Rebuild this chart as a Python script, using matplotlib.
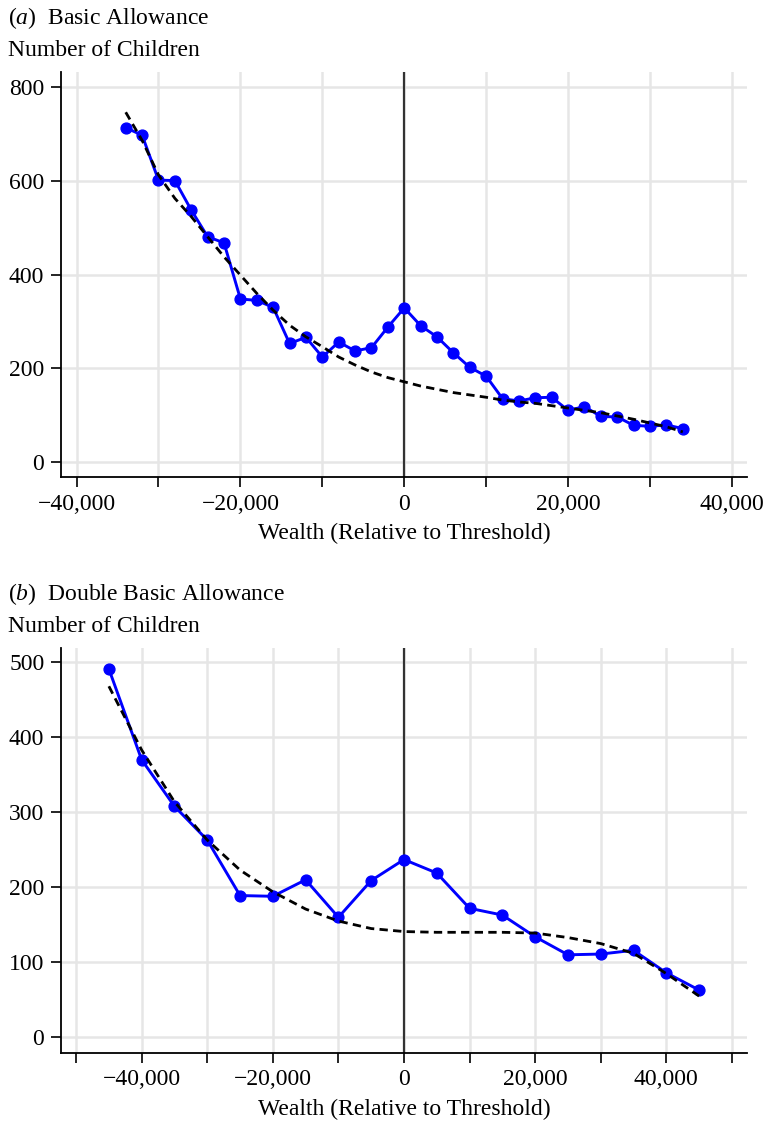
import matplotlib
matplotlib.use('Agg')
import matplotlib.pyplot as plt
from matplotlib.ticker import MultipleLocator, FuncFormatter

plt.rcParams['font.family'] = ['Liberation Serif', 'DejaVu Serif']
plt.rcParams['mathtext.fontset'] = 'custom'
plt.rcParams['mathtext.rm'] = 'Liberation Serif'
plt.rcParams['mathtext.it'] = 'Liberation Serif:italic'

# panel (a): basic allowance, bins of 2,000
wealth_a = list(range(-34000, 34001, 2000))
children_a = [714, 698, 602, 601, 538, 481, 468, 348, 345, 330, 253, 266, 224,
              256, 237, 244, 288, 329, 291, 267, 233, 202, 183, 135, 130, 137,
              138, 110, 118, 97, 96, 78, 76, 79, 71]
fit_a = [747, 687, 613, 563, 524, 481, 438, 399, 360, 324, 292, 267, 246, 224,
         207, 192, 180, 171, 162, 155, 148, 143, 138, 132, 128, 125, 120, 115,
         110, 105, 98, 91, 83, 75, 64]

# panel (b): double basic allowance, bins of 5,000
wealth_b = list(range(-45000, 45001, 5000))
children_b = [491, 370, 308, 263, 189, 188, 210, 160, 209, 237, 219, 172, 163,
              134, 110, 111, 116, 86, 63]
fit_b = [468, 383, 314, 263, 223, 194, 171, 155, 145, 141, 140, 140, 140,
         139, 133, 125, 112, 85, 55]

FS = 17


def fmt_wealth(v, pos):
    v = int(round(v))
    if v % 20000 != 0:
        return ''
    s = f'{abs(v):,}'
    return '\u2212' + s if v < 0 else s


def draw_panel(ax, x, y, fit, xlim, ylim, ystep):
    ax.plot(x, y, color='#0000ff', lw=2.1, marker='o', ms=7.8, zorder=3)
    ax.plot(x, fit, color='black', lw=2.0, dashes=(3.0, 1.9), zorder=4)
    ax.axvline(0, color='#333333', lw=1.6, zorder=2)
    ax.set_xlim(*xlim)
    ax.set_ylim(*ylim)
    ax.xaxis.set_major_locator(MultipleLocator(10000))
    ax.xaxis.set_major_formatter(FuncFormatter(fmt_wealth))
    ax.yaxis.set_major_locator(MultipleLocator(ystep))
    ax.grid(True, color='#e6e6e6', lw=1.8)
    ax.set_axisbelow(True)
    for side in ['top', 'right']:
        ax.spines[side].set_visible(False)
    for side in ['left', 'bottom']:
        ax.spines[side].set_linewidth(1.3)
    ax.tick_params(direction='out', length=7, width=1.2, pad=5, labelsize=FS)
    ax.set_xlabel('Wealth (Relative to Threshold)', fontsize=FS, labelpad=6)


fig = plt.figure(figsize=(7.66, 11.24), dpi=100)
W, H = 766, 1124

ax1 = fig.add_axes([61 / W, 1 - 477.3 / H, (746.7 - 61) / W, (477.3 - 72) / H])
draw_panel(ax1, wealth_a, children_a, fit_a, (-41900, 41800), (-33, 833), 200)

ax2 = fig.add_axes([61 / W, 1 - 1052.7 / H, (746.7 - 61) / W, (1052.7 - 648) / H])
draw_panel(ax2, wealth_b, children_b, fit_b, (-52300, 52260), (-20.5, 519), 100)

fig.text(8 / W, 1 - 18 / H, '($a$)  Basic Allowance', fontsize=FS, va='center')
fig.text(8 / W, 1 - 50 / H, 'Number of Children', fontsize=FS, va='center')
fig.text(8 / W, 1 - 594 / H, '($b$)  Double Basic Allowance', fontsize=FS, va='center')
fig.text(8 / W, 1 - 627 / H, 'Number of Children', fontsize=FS, va='center')

fig.savefig('out.png', dpi=100)
